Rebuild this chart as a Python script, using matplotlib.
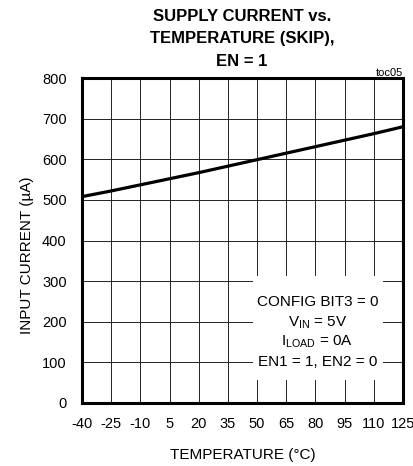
import matplotlib
matplotlib.use("Agg")
import matplotlib.pyplot as plt
from matplotlib.patches import Rectangle

plt.rcParams['font.family'] = ['Liberation Sans', 'DejaVu Sans']
plt.rcParams['axes.unicode_minus'] = False

temperature = [-40, -25, -10, 5, 20, 35, 50, 65, 80, 95, 110, 125]
input_current = [508, 522, 537, 552, 567, 583, 599, 615, 631, 647, 663, 680]
x_ticks = [-40, -25, -10, 5, 20, 35, 50, 65, 80, 95, 110, 125]
y_ticks = [0, 100, 200, 300, 400, 500, 600, 700, 800]

fig = plt.figure(figsize=(4.14, 4.66), dpi=100)
ax = fig.add_axes([82 / 414, 1 - 403 / 466, 321 / 414, 325 / 466])

ax.plot(temperature, input_current, color='black', lw=2.3, zorder=4)

ax.set_xlim(-40, 125)
ax.set_ylim(0, 800)
ax.set_xticks(x_ticks)
ax.set_yticks(y_ticks)
ax.tick_params(length=0, labelsize=10.5)
ax.tick_params(axis='y', pad=11)
ax.tick_params(axis='x', pad=10)
ax.grid(True, color='#222222', lw=0.7, zorder=1)
ax.set_axisbelow(True)
for s in ax.spines.values():
    s.set_linewidth(2.2)
    s.set_zorder(5)

# white panel behind the test conditions
ax.add_patch(Rectangle((48, 57), 66.5, 256, facecolor='white', edgecolor='none', zorder=2))
conds = ["CONFIG BIT3 = 0", r"V$_{\mathregular{IN}}$ = 5V",
         r"I$_{\mathregular{LOAD}}$ = 0A", "EN1 = 1, EN2 = 0"]
for i, t in enumerate(conds):
    ax.text(81, 248 - i * 49, t, ha='center', va='center', fontsize=11, zorder=3)

ax.set_xlabel("TEMPERATURE (°C)", fontsize=11, labelpad=12)
ax.set_ylabel("INPUT CURRENT (µA)", fontsize=11)
ax.yaxis.set_label_coords(-0.15, 0.455)

fig.text(242 / 414, 1 - 39 / 466, "SUPPLY CURRENT vs.\nTEMPERATURE (SKIP),\nEN = 1",
         ha='center', va='center', fontsize=12, fontweight='bold', linespacing=1.65)
fig.text(403 / 414, 1 - 73 / 466, "toc05", ha='right', va='center', fontsize=8)

fig.savefig("out.png", dpi=100)
